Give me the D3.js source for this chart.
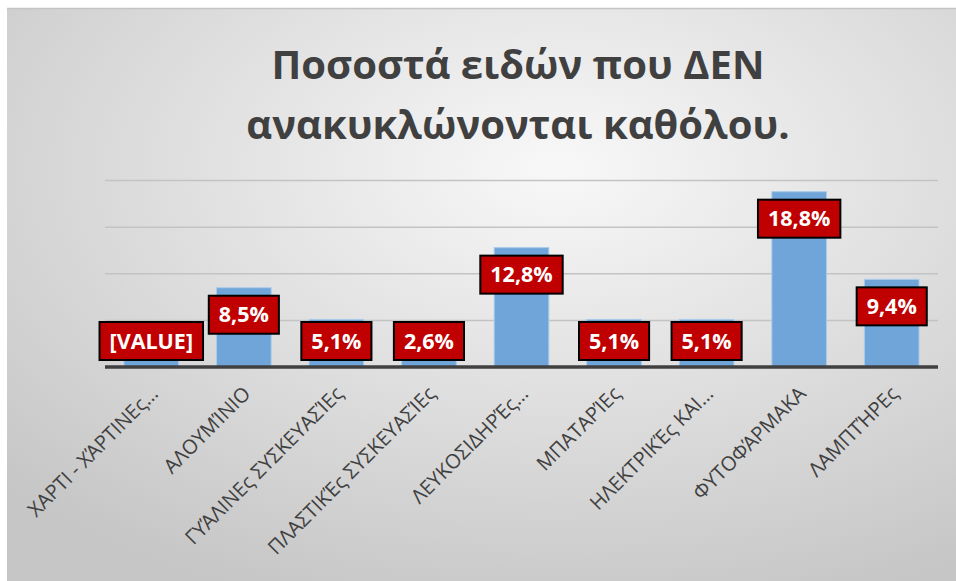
<!DOCTYPE html>
<html lang="el">
<head>
<meta charset="UTF-8">
<title>Ποσοστά ειδών</title>
<script src="https://d3js.org/d3.v7.min.js"></script>
<style>
  html, body { margin: 0; padding: 0; background: #fff; }
  svg { display: block; }
</style>
</head>
<body>
<svg id="chart" width="956" height="581"></svg>
<script>
(function () {
  'use strict';

  // data
  const categories = [
    "ΧΑΡΤΙ - ΧΆΡΤΙΝΕς…", "ΑΛΟΥΜΊΝΙΟ", "ΓΥΆΛΙΝΕς ΣΥΣΚΕΥΑΣΊΕς",
    "ΠΛΑΣΤΙΚΈς ΣΥΣΚΕΥΑΣΊΕς", "ΛΕΥΚΟΣΙΔΗΡΈς…", "ΜΠΑΤΑΡΊΕς",
    "ΗΛΕΚΤΡΙΚΈς ΚΑΙ…", "ΦΥΤΟΦΆΡΜΑΚΑ", "ΛΑΜΠΤΉΡΕς"
  ];
  const values = [3.0, 8.5, 5.1, 2.6, 12.8, 5.1, 5.1, 18.8, 9.4];
  const valueLabels = ["[VALUE]", "8,5%", "5,1%", "2,6%", "12,8%", "5,1%", "5,1%", "18,8%", "9,4%"];
  const gridTicks = [5, 10, 15, 20];
  const titleLines = ["Ποσοστά ειδών που ΔΕΝ", "ανακυκλώνονται καθόλου."];

  const W = 956, H = 581;
  const plot = { left: 105, right: 938, base: 367, top: 180.5 };

  const svg = d3.select("#chart");

  // background gradient like the office chart area
  const defs = svg.append("defs");
  const grad = defs.append("radialGradient")
      .attr("id", "bg")
      .attr("cx", "58%").attr("cy", "28%").attr("r", "80%");
  grad.append("stop").attr("offset", "0%").attr("stop-color", "#f8f8f8");
  grad.append("stop").attr("offset", "100%").attr("stop-color", "#c6c6c6");

  svg.append("rect")
      .attr("x", 7).attr("y", 8)
      .attr("width", W - 7).attr("height", H - 8)
      .attr("fill", "url(#bg)");
  svg.append("line")
      .attr("x1", 7).attr("x2", W).attr("y1", 8.5).attr("y2", 8.5)
      .attr("stroke", "#c4c4c4").attr("stroke-width", 1.5);

  const x = d3.scaleBand()
      .domain(categories)
      .range([plot.left, plot.right])
      .paddingInner(0.41)
      .paddingOuter(0.205);

  const y = d3.scaleLinear()
      .domain([0, 20])
      .range([plot.base, plot.top]);

  // gridlines
  svg.append("g")
      .selectAll("line")
      .data(gridTicks)
      .join("line")
      .attr("x1", plot.left).attr("x2", plot.right)
      .attr("y1", d => y(d)).attr("y2", d => y(d))
      .attr("stroke", "#c3c3c3")
      .attr("stroke-width", 1.5);

  // bars
  svg.append("g")
      .selectAll("rect")
      .data(values)
      .join("rect")
      .attr("x", (d, i) => x(categories[i]))
      .attr("width", x.bandwidth())
      .attr("y", d => y(d))
      .attr("height", d => plot.base - y(d))
      .attr("fill", "#6fa5d8")
      .attr("stroke", "#a9cbec")
      .attr("stroke-width", 1);

  // x axis line
  svg.append("line")
      .attr("x1", plot.left).attr("x2", plot.right)
      .attr("y1", plot.base).attr("y2", plot.base)
      .attr("stroke", "#404040")
      .attr("stroke-width", 3.5);

  // category labels, rotated
  svg.append("g")
      .selectAll("text")
      .data(categories)
      .join("text")
      .attr("transform", d => `translate(${x(d) + x.bandwidth() / 2 + 3},${plot.base + 23}) rotate(-45)`)
      .attr("text-anchor", "end")
      .attr("dy", "0.35em")
      .attr("fill", "#404040")
      .style("font", "20px 'Open Sans', sans-serif")
      .text(d => d);

  // data labels: red boxes
  const lbl = svg.append("g")
      .selectAll("g")
      .data(values)
      .join("g")
      .attr("transform", (d, i) => {
        const cx = x(categories[i]) + x.bandwidth() / 2;
        const cy = Math.min(y(d) + 27, plot.base - 26);
        return `translate(${cx},${cy})`;
      });

  lbl.append("text")
      .attr("text-anchor", "middle")
      .attr("dy", "0.36em")
      .attr("fill", "#fff")
      .style("font", "bold 21.5px 'Open Sans', sans-serif")
      .text((d, i) => valueLabels[i]);

  lbl.insert("rect", "text")
      .each(function () {
        const w = this.parentNode.querySelector("text").getComputedTextLength() + 20;
        d3.select(this)
          .attr("x", -w / 2).attr("width", w)
          .attr("y", -19).attr("height", 38);
      })
      .attr("fill", "#c00000")
      .attr("stroke", "#000")
      .attr("stroke-width", 2);

  // title
  svg.append("g")
      .selectAll("text")
      .data(titleLines)
      .join("text")
      .attr("x", 518)
      .attr("y", (d, i) => 79 + i * 60)
      .attr("text-anchor", "middle")
      .attr("fill", "#404040")
      .style("font", "bold 40px 'Open Sans', sans-serif")
      .text(d => d);
}());
</script>
</body>
</html>
